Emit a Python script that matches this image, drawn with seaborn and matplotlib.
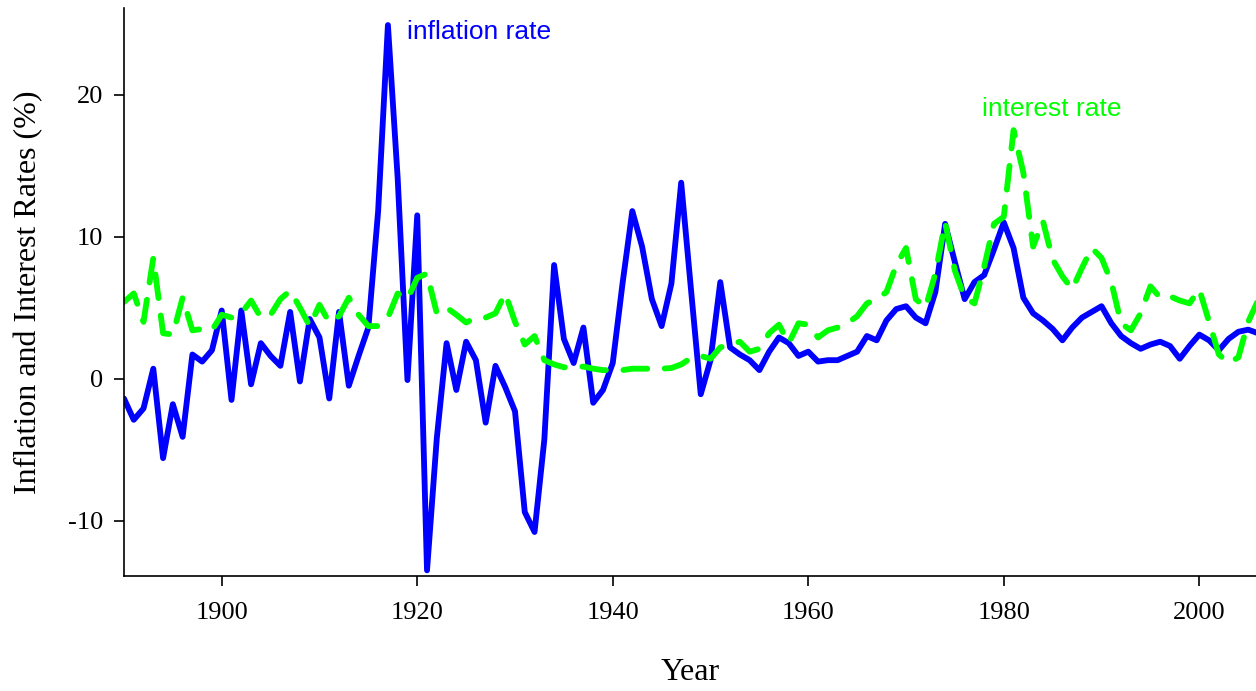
import pandas as pd
import numpy as np
import matplotlib
matplotlib.use("Agg")
import matplotlib.pyplot as plt
import seaborn as sns

# years 1890-2006 (last one runs past the right edge)
years = list(range(1890, 2007))

# annual inflation rate (%)
inflation = [
    -1.4, -2.9, -2.1, 0.7, -5.6, -1.8, -4.1, 1.7, 1.2, 2.0,      # 1890s
    4.8, -1.5, 4.8, -0.4, 2.5, 1.6, 0.9, 4.7, -0.2, 4.2,         # 1900s
    2.9, -1.4, 4.7, -0.5, 1.6, 3.6, 11.8, 24.9, 14.1, -0.1,      # 1910s
    11.5, -13.5, -4.2, 2.5, -0.8, 2.6, 1.3, -3.1, 0.9, -0.6,     # 1920s
    -2.3, -9.4, -10.8, -4.3, 8.0, 2.8, 1.1, 3.6, -1.7, -0.8,     # 1930s
    1.1, 6.7, 11.8, 9.3, 5.6, 3.7, 6.7, 13.8, 6.3, -1.1,         # 1940s
    1.3, 6.8, 2.2, 1.7, 1.3, 0.6, 1.9, 2.9, 2.5, 1.6,            # 1950s
    1.9, 1.2, 1.3, 1.3, 1.6, 1.9, 3.0, 2.7, 4.1, 4.9,            # 1960s
    5.1, 4.3, 3.9, 6.1, 10.9, 8.2, 5.6, 6.8, 7.3, 9.1,           # 1970s
    11.0, 9.2, 5.7, 4.6, 4.1, 3.5, 2.7, 3.6, 4.3, 4.7,           # 1980s
    5.1, 3.9, 3.0, 2.5, 2.1, 2.4, 2.6, 2.3, 1.4, 2.3,            # 1990s
    3.1, 2.7, 2.0, 2.8, 3.3, 3.45, 3.2,                          # 2000s
]

# short-term interest rate (%)
interest = [
    5.4, 6.0, 4.0, 8.5, 3.2, 3.1, 5.7, 3.4, 3.5, 3.4,
    4.5, 4.3, 4.6, 5.5, 4.3, 4.5, 5.6, 6.2, 5.0, 3.7,
    5.2, 3.95, 4.4, 5.7, 4.5, 3.7, 3.7, 4.3, 6.0, 5.6,
    7.1, 7.4, 4.6, 5.0, 4.5, 3.95, 4.3, 4.3, 4.6, 6.0,
    4.0, 2.4, 3.0, 1.3, 1.0, 0.8, 0.8, 0.85, 0.7, 0.6,
    0.6, 0.6, 0.7, 0.7, 0.7, 0.7, 0.75, 1.0, 1.45, 1.6,
    1.4, 2.2, 2.4, 2.6, 1.9, 2.1, 3.2, 3.8, 2.5, 3.9,
    3.8, 2.9, 3.4, 3.6, 3.9, 4.4, 5.3, 5.6, 6.1, 8.0,
    9.2, 5.6, 5.0, 7.4, 11.0, 7.6, 5.7, 5.3, 7.9, 10.9,
    11.4, 17.5, 14.5, 9.3, 11.1, 8.4, 7.2, 6.3, 7.8, 9.2,
    8.5, 6.8, 3.9, 3.4, 4.6, 6.5, 5.7, 5.8, 5.5, 5.3,
    6.3, 4.0, 1.7, 1.1, 1.5, 4.0, 5.5,
]

x_ticks = [1900, 1920, 1940, 1960, 1980, 2000]
y_ticks = [-10, 0, 10, 20]

df = pd.DataFrame({"Year": years, "inflation": inflation, "interest": interest})

sns.set_style("ticks")
plt.rcParams["font.family"] = ["Liberation Serif", "DejaVu Serif"]
plt.rcParams["axes.unicode_minus"] = False
plt.rcParams["text.color"] = "black"
plt.rcParams["axes.labelcolor"] = "black"
plt.rcParams["xtick.color"] = "black"
plt.rcParams["ytick.color"] = "black"

fig = plt.figure(figsize=(12.56, 6.91), dpi=100)
ax = fig.add_axes([0.0987, 0.1664, 0.9013, 0.822])

sns.lineplot(data=df, x="Year", y="inflation", ax=ax, color="#0000ff",
             linewidth=4.2, solid_joinstyle="round", solid_capstyle="round")
sns.lineplot(data=df, x="Year", y="interest", ax=ax, color="#00ff00",
             linewidth=4.2, dash_capstyle="round", dash_joinstyle="round")
ax.lines[-1].set_dashes((4.1, 3.0))

ax.set_xlim(1890, 2005.8)
ax.set_ylim(-13.9, 26.1)
ax.set_xticks(x_ticks)
ax.set_yticks(y_ticks)
ax.tick_params(axis="x", labelsize=19, length=7, width=1.2, pad=12, colors="black")
ax.tick_params(axis="y", labelsize=19, length=7, width=1.2, pad=8, colors="black")
ax.set_xlabel("Year", fontsize=23, labelpad=24, color="black")
ax.set_ylabel("Inflation and Interest Rates (%)", fontsize=23, labelpad=18, color="black")

for side in ["left", "bottom"]:
    ax.spines[side].set_linewidth(1.2)
    ax.spines[side].set_color("black")
sns.despine(ax=ax)

ax.text(1919.0, 24.4, "inflation rate", color="#0000ff", fontsize=19,
        family=["Liberation Sans", "DejaVu Sans"], va="center", ha="left")
ax.text(1977.8, 19.0, "interest rate", color="#00ff00", fontsize=19,
        family=["Liberation Sans", "DejaVu Sans"], va="center", ha="left")

fig.savefig("out.png", dpi=100)
